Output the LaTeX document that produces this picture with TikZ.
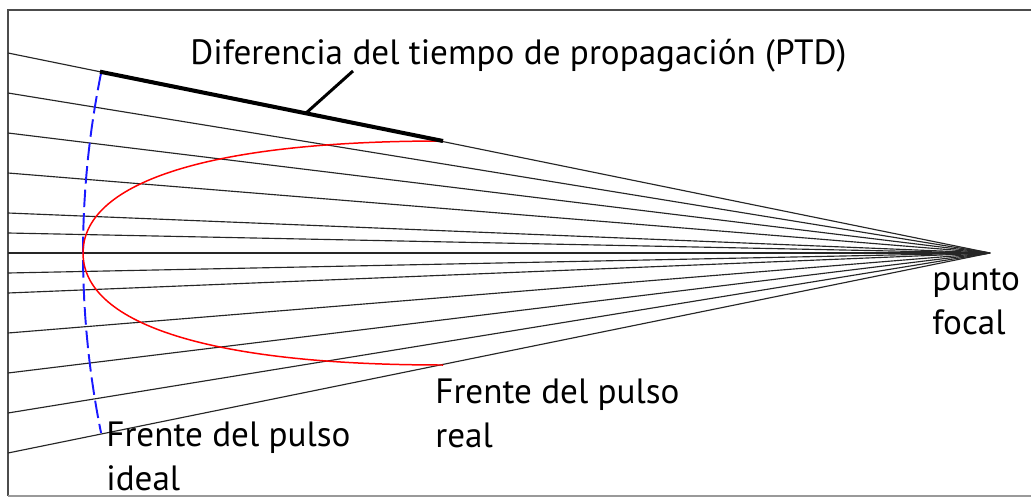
\documentclass[tikz,border=0pt]{standalone}
\usepackage{fontspec}
\setmainfont{PT Sans}
\usetikzlibrary{positioning,calc}

\tikzset{
  ray/.style={black!85, line width=0.65pt},
  label/.style={inner sep=0, align=left, font=\fontsize{20}{25}\selectfont},
}

\begin{document}
\begin{tikzpicture}[x=0.02cm, y=-0.02cm]
    \useasboundingbox (0,0) rectangle (1031,497);
    \fill[white] (0,0) rectangle (1031,497);
    \draw[black!70, line width=0.9pt] (1031,10) -- (8,10) -- (8,496);
    \draw[black!40, line width=0.9pt] (8,496) -- (1031,496);

    \coordinate (focus) at (990,253);
    \foreach \d in {-200,-160,-120,-80,-40,-20,0,20,40,80,120,160,200}
      \draw[ray] (8,253+\d) -- (focus);

    \coordinate (ideal top) at (100,71.7);
    \coordinate (real top) at (443,141);
    \coordinate (real tip) at (83,253);
    \coordinate (real bottom) at (443,365);

    % frente ideal: arco centrado en el foco
    \draw[blue!90, line width=1.1pt, dash pattern=on 10pt off 3.4pt]
      plot[domain=-11.45:11.45, samples=60] ({990-907*cos(\x)}, {253+907*sin(\x)});

    % frente real
    \draw[red, line width=0.85pt] (real top) .. controls (200,141) and (83,185) .. (real tip)
      .. controls (83,321) and (200,365) .. (real bottom);

    \draw[line width=2.3pt] (ideal top) -- (real top);

    \node[label, anchor=base west] (ptd) at (190,64) {Diferencia del tiempo de propagación (PTD)};
    \coordinate (lead) at (353,71);
    \draw[line width=1.7pt] ($(ideal top)!0.6!(real top)$) -- (lead);

    \node[label, anchor=base west] (focal) at (932,334) {punto\\focal};
    \node[label, anchor=base west] (real) at (435,447) {Frente del pulso\\real};
    \node[label, anchor=base west] (ideal) at (106,490) {Frente del pulso\\ideal};
\end{tikzpicture}
\end{document}
